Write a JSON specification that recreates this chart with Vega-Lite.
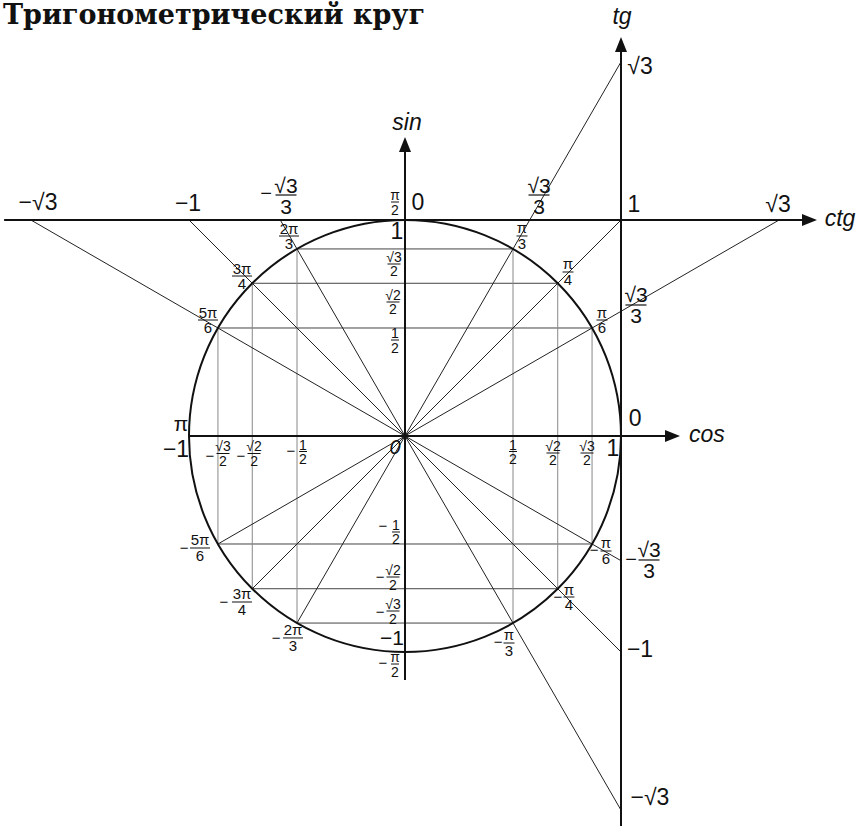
{
 "$schema": "https://vega.github.io/schema/vega-lite/v6.json",
 "width": 863, "height": 826, "padding": 0, "autosize": {"type": "none"},
 "background": "white",
 "config": {"view": {"stroke": null}},
 "datasets": {
  "lines": [
   {"k":"axis","x":-1.856,"y":1,"x2":1.84,"y2":1},
   {"k":"axis","x":1,"y":-1.81,"x2":1,"y2":1.80},
   {"k":"axis","x":-1,"y":0,"x2":1.225,"y2":0},
   {"k":"axis","x":0,"y":-1.13,"x2":0,"y2":1.335},
   {"k":"radial","x":-1.7321,"y":1,"x2":1,"y2":-0.5774},
   {"k":"radial","x":-1,"y":1,"x2":1,"y2":-1},
   {"k":"radial","x":-0.5774,"y":1,"x2":1,"y2":-1.7321},
   {"k":"radial","x":1,"y":1.7321,"x2":-0.5,"y2":-0.866},
   {"k":"radial","x":1,"y":1,"x2":-0.7071,"y2":-0.7071},
   {"k":"radial","x":1.7321,"y":1,"x2":-0.866,"y2":-0.5},
   {"k":"hchord","x":-0.866,"y":0.5,"x2":0.866,"y2":0.5},
   {"k":"hchord","x":-0.7071,"y":0.7071,"x2":0.7071,"y2":0.7071},
   {"k":"hchord","x":-0.5,"y":0.866,"x2":0.5,"y2":0.866},
   {"k":"hchord","x":-0.866,"y":-0.5,"x2":0.866,"y2":-0.5},
   {"k":"hchord","x":-0.7071,"y":-0.7071,"x2":0.7071,"y2":-0.7071},
   {"k":"hchord","x":-0.5,"y":-0.866,"x2":0.5,"y2":-0.866},
   {"k":"vchord","x":0.5,"y":-0.866,"x2":0.5,"y2":0.866},
   {"k":"vchord","x":0.7071,"y":-0.7071,"x2":0.7071,"y2":0.7071},
   {"k":"vchord","x":0.866,"y":-0.5,"x2":0.866,"y2":0.5},
   {"k":"vchord","x":-0.5,"y":-0.866,"x2":-0.5,"y2":0.866},
   {"k":"vchord","x":-0.7071,"y":-0.7071,"x2":-0.7071,"y2":0.7071},
   {"k":"vchord","x":-0.866,"y":-0.5,"x2":-0.866,"y2":0.5}
  ],
  "center": [{"x":0,"y":0}],
  "arrows": [
   {"x":1.8727,"y":1,"d":"right"},
   {"x":1,"y":1.8125,"d":"up"},
   {"x":1.2384,"y":0,"d":"right"},
   {"x":0,"y":1.3495,"d":"up"}
  ],
  "labels": [
   {"t":"Тригонометрический круг","x":-1.861,"y":1.9426,"g":"title"},
   {"t":"tg","x":1.0046,"y":1.9398,"g":"axis"},
   {"t":"sin","x":0.0093,"y":1.449,"g":"axis"},
   {"t":"ctg","x":2.0139,"y":1.0046,"g":"axis"},
   {"t":"cos","x":1.398,"y":0.0046,"g":"axis"},
   {"t":"−√3","x":-1.699,"y":1.0764,"g":"big"},
   {"t":"−1","x":-1.0046,"y":1.074,"g":"big"},
   {"t":"0","x":0.0602,"y":1.0787,"g":"big"},
   {"t":"1","x":1.06,"y":1.069,"g":"big"},
   {"t":"√3","x":1.7269,"y":1.069,"g":"big"},
   {"t":"√3","x":1.088,"y":1.708,"g":"big"},
   {"t":"−1","x":1.088,"y":-0.9907,"g":"big"},
   {"t":"−√3","x":1.134,"y":-1.676,"g":"big"},
   {"t":"1","x":-0.037,"y":0.9444,"g":"big"},
   {"t":"−1","x":-1.06,"y":-0.0648,"g":"big"},
   {"t":"1","x":0.963,"y":-0.06,"g":"big"},
   {"t":"0","x":1.065,"y":0.0787,"g":"big"},
   {"t":"−1","x":-0.06,"y":-0.9421,"g":"mid"},
   {"t":"π","x":-1.037,"y":0.0509,"g":"mid"},
   {"t":"0","x":-0.0463,"y":-0.0556,"g":"zero"},
   {"t":"−","x":-0.9028,"y":-0.0926,"g":"minus"},
   {"t":"−","x":-0.7593,"y":-0.0926,"g":"minus"},
   {"t":"−","x":-0.5278,"y":-0.0694,"g":"minus"},
   {"t":"−","x":0.875,"y":-0.5278,"g":"minus"},
   {"t":"−","x":0.7083,"y":-0.7454,"g":"minus"},
   {"t":"−","x":0.4306,"y":-0.9537,"g":"minus"},
   {"t":"−","x":-1.0231,"y":-0.5185,"g":"minus"},
   {"t":"−","x":-0.838,"y":-0.7685,"g":"minus"},
   {"t":"−","x":-0.597,"y":-0.935,"g":"minus"},
   {"t":"−","x":-0.1019,"y":-0.4167,"g":"minus"},
   {"t":"−","x":-0.1157,"y":-0.6528,"g":"minus"},
   {"t":"−","x":-0.1157,"y":-0.8148,"g":"minus"},
   {"t":"−","x":-0.1019,"y":-1.051,"g":"minus"},
   {"t":"−","x":-0.6435,"y":1.1204,"g":"minusL"},
   {"t":"−","x":1.0463,"y":-0.574,"g":"minusL"}
  ],
  "fracs": [
   {"n":"π","d":"2","x":-0.0463,"y":1.0833,"g":"s"},
   {"n":"√3","d":"2","x":-0.0509,"y":0.7963,"g":"s"},
   {"n":"√2","d":"2","x":-0.0556,"y":0.6204,"g":"s"},
   {"n":"1","d":"2","x":-0.0463,"y":0.4444,"g":"s"},
   {"n":"√3","d":"2","x":-0.8426,"y":-0.081,"g":"s"},
   {"n":"√2","d":"2","x":-0.699,"y":-0.081,"g":"s"},
   {"n":"1","d":"2","x":-0.4722,"y":-0.0718,"g":"s"},
   {"n":"1","d":"2","x":0.5,"y":-0.0718,"g":"s"},
   {"n":"√2","d":"2","x":0.685,"y":-0.0787,"g":"s"},
   {"n":"√3","d":"2","x":0.8426,"y":-0.0787,"g":"s"},
   {"n":"1","d":"2","x":-0.0417,"y":-0.4444,"g":"s"},
   {"n":"√2","d":"2","x":-0.0556,"y":-0.6528,"g":"s"},
   {"n":"√3","d":"2","x":-0.0556,"y":-0.8102,"g":"s"},
   {"n":"π","d":"2","x":-0.0463,"y":-1.0556,"g":"s"},
   {"n":"2π","d":"3","x":-0.537,"y":0.9259,"g":"m"},
   {"n":"3π","d":"4","x":-0.7546,"y":0.7407,"g":"m"},
   {"n":"5π","d":"6","x":-0.912,"y":0.537,"g":"m"},
   {"n":"π","d":"3","x":0.5417,"y":0.926,"g":"m"},
   {"n":"π","d":"4","x":0.7546,"y":0.7593,"g":"m"},
   {"n":"π","d":"6","x":0.912,"y":0.537,"g":"m"},
   {"n":"π","d":"6","x":0.9306,"y":-0.5324,"g":"m"},
   {"n":"π","d":"4","x":0.759,"y":-0.7454,"g":"m"},
   {"n":"π","d":"3","x":0.4815,"y":-0.9583,"g":"m"},
   {"n":"5π","d":"6","x":-0.949,"y":-0.5185,"g":"m"},
   {"n":"3π","d":"4","x":-0.7546,"y":-0.7685,"g":"m"},
   {"n":"2π","d":"3","x":-0.5185,"y":-0.935,"g":"m"},
   {"n":"√3","d":"3","x":-0.551,"y":1.1157,"g":"l"},
   {"n":"√3","d":"3","x":0.6204,"y":1.1157,"g":"l"},
   {"n":"√3","d":"3","x":1.0694,"y":0.6065,"g":"l"},
   {"n":"√3","d":"3","x":1.1296,"y":-0.574,"g":"l"}
  ]
 },
 "encoding": {
  "x": {"field":"x","type":"quantitative","scale":{"domain":[-1.875,2.12037],"nice":false,"zero":false},"axis":null},
  "y": {"field":"y","type":"quantitative","scale":{"domain":[-1.80556,2.01852],"nice":false,"zero":false},"axis":null}
 },
 "layer": [
  {"data":{"name":"lines"},"transform":[{"filter":"datum.k=='hchord'"}],"mark":{"type":"rule","stroke":"#444","strokeWidth":1},"encoding":{"x2":{"field":"x2"},"y2":{"field":"y2"}}},
  {"data":{"name":"lines"},"transform":[{"filter":"datum.k=='vchord'"}],"mark":{"type":"rule","stroke":"#888","strokeWidth":1},"encoding":{"x2":{"field":"x2"},"y2":{"field":"y2"}}},
  {"data":{"name":"lines"},"transform":[{"filter":"datum.k=='radial'"}],"mark":{"type":"rule","stroke":"#222","strokeWidth":1},"encoding":{"x2":{"field":"x2"},"y2":{"field":"y2"}}},
  {"data":{"name":"center"},"mark":{"type":"point","shape":"circle","size":186624,"filled":false,"stroke":"#111","strokeWidth":2,"opacity":1}},
  {"data":{"name":"lines"},"transform":[{"filter":"datum.k=='axis'"}],"mark":{"type":"rule","stroke":"#111","strokeWidth":2},"encoding":{"x2":{"field":"x2"},"y2":{"field":"y2"}}},
  {"data":{"name":"arrows"},"mark":{"type":"point","filled":true,"size":225,"color":"#111","opacity":1,"strokeWidth":0},
   "encoding":{"shape":{"field":"d","type":"nominal","scale":{"domain":["right","up"],"range":["M-1,-0.8L1,0L-1,0.8Z","M-0.8,1L0,-1L0.8,1Z"]},"legend":null}}},
  {"data":{"name":"labels"},"transform":[{"filter":"datum.g=='title'"}],"mark":{"type":"text","font":"DejaVu Serif","fontWeight":"bold","fontSize":27,"align":"left","baseline":"middle","color":"#111"},"encoding":{"text":{"field":"t"}}},
  {"data":{"name":"labels"},"transform":[{"filter":"datum.g=='axis'"}],"mark":{"type":"text","font":"Liberation Sans","fontStyle":"italic","fontSize":23,"align":"center","baseline":"middle","color":"#111"},"encoding":{"text":{"field":"t"}}},
  {"data":{"name":"labels"},"transform":[{"filter":"datum.g=='big'"}],"mark":{"type":"text","font":"Liberation Sans","fontSize":23,"align":"center","baseline":"middle","color":"#111"},"encoding":{"text":{"field":"t"}}},
  {"data":{"name":"labels"},"transform":[{"filter":"datum.g=='mid'"}],"mark":{"type":"text","font":"Liberation Sans","fontSize":21,"align":"center","baseline":"middle","color":"#111"},"encoding":{"text":{"field":"t"}}},
  {"data":{"name":"labels"},"transform":[{"filter":"datum.g=='zero'"}],"mark":{"type":"text","font":"Liberation Sans","fontStyle":"italic","fontSize":20,"align":"center","baseline":"middle","color":"#111"},"encoding":{"text":{"field":"t"}}},
  {"data":{"name":"labels"},"transform":[{"filter":"datum.g=='minus'"}],"mark":{"type":"text","font":"Liberation Sans","fontSize":15,"align":"center","baseline":"middle","color":"#111"},"encoding":{"text":{"field":"t"}}},
  {"data":{"name":"labels"},"transform":[{"filter":"datum.g=='minusL'"}],"mark":{"type":"text","font":"Liberation Sans","fontSize":20,"align":"center","baseline":"middle","color":"#111"},"encoding":{"text":{"field":"t"}}},
  {"data":{"name":"fracs"},"transform":[{"filter":"datum.g=='s'"}],"mark":{"type":"text","font":"Liberation Sans","fontSize":14,"align":"center","baseline":"alphabetic","dy":-2,"color":"#111"},"encoding":{"text":{"field":"n"}}},
  {"data":{"name":"fracs"},"transform":[{"filter":"datum.g=='s'"}],"mark":{"type":"text","font":"Liberation Sans","fontSize":14,"align":"center","baseline":"alphabetic","dy":12.5,"color":"#111"},"encoding":{"text":{"field":"d"}}},
  {"data":{"name":"fracs"},"transform":[{"filter":"datum.g=='m'"}],"mark":{"type":"text","font":"Liberation Sans","fontSize":15,"align":"center","baseline":"alphabetic","dy":-2.5,"color":"#111"},"encoding":{"text":{"field":"n"}}},
  {"data":{"name":"fracs"},"transform":[{"filter":"datum.g=='m'"}],"mark":{"type":"text","font":"Liberation Sans","fontSize":15,"align":"center","baseline":"alphabetic","dy":13,"color":"#111"},"encoding":{"text":{"field":"d"}}},
  {"data":{"name":"fracs"},"transform":[{"filter":"datum.g=='l'"}],"mark":{"type":"text","font":"Liberation Sans","fontSize":21,"align":"center","baseline":"alphabetic","dy":-2.5,"color":"#111"},"encoding":{"text":{"field":"n"}}},
  {"data":{"name":"fracs"},"transform":[{"filter":"datum.g=='l'"}],"mark":{"type":"text","font":"Liberation Sans","fontSize":21,"align":"center","baseline":"alphabetic","dy":18.5,"color":"#111"},"encoding":{"text":{"field":"d"}}},
  {"data":{"name":"fracs"},"transform":[{"filter":"datum.g=='s' && length(datum.n)==1"}],"mark":{"type":"tick","orient":"horizontal","size":8,"thickness":1,"color":"#111","opacity":1}},
  {"data":{"name":"fracs"},"transform":[{"filter":"datum.g=='s' && length(datum.n)==2"}],"mark":{"type":"tick","orient":"horizontal","size":13,"thickness":1,"color":"#111","opacity":1}},
  {"data":{"name":"fracs"},"transform":[{"filter":"datum.g=='m' && length(datum.n)==1"}],"mark":{"type":"tick","orient":"horizontal","size":11,"thickness":1,"color":"#111","opacity":1}},
  {"data":{"name":"fracs"},"transform":[{"filter":"datum.g=='m' && length(datum.n)==2"}],"mark":{"type":"tick","orient":"horizontal","size":20,"thickness":1,"color":"#111","opacity":1}},
  {"data":{"name":"fracs"},"transform":[{"filter":"datum.g=='l'"}],"mark":{"type":"tick","orient":"horizontal","size":21,"thickness":1.2,"color":"#111","opacity":1}}
 ]
}
